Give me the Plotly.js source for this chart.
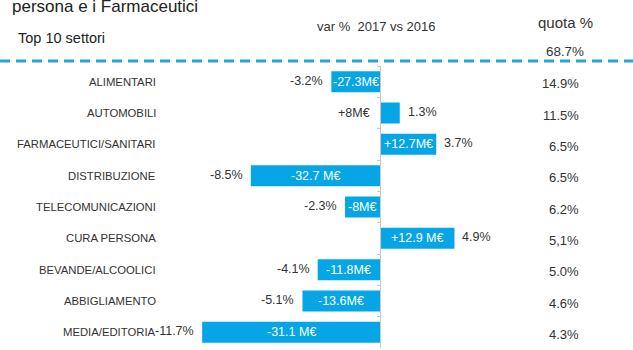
<!DOCTYPE html>
<html>
<head>
<meta charset="utf-8">
<script src="https://cdn.plot.ly/plotly-3.0.1.min.js"></script>
<style>html,body{margin:0;padding:0;background:#fff;}#chart{width:633px;height:350px;}</style>
</head>
<body>
<div id="chart"></div>
<script>
// ---- data ----
const categories = ['ALIMENTARI','AUTOMOBILI','FARMACEUTICI/SANITARI','DISTRIBUZIONE','TELECOMUNICAZIONI','CURA PERSONA','BEVANDE/ALCOOLICI','ABBIGLIAMENTO','MEDIA/EDITORIA'];
const varPct = [-3.2, 1.3, 3.7, -8.5, -2.3, 4.9, -4.1, -5.1, -11.7];
const deltaLabels = ['-27.3M€','+8M€','+12.7M€','-32.7 M€','-8M€','+12.9 M€','-11.8M€','-13.6M€','-31.1 M€'];
const quota = ['14.9%','11.5%','6.5%','6.5%','6.2%','5,1%','5.0%','4.6%','4.3%'];
const totalQuota = '68.7%';
const titleText = 'persona e i Farmaceutici';
const subtitleText = 'Top 10 settori';
const varHeader = 'var %  2017 vs 2016';
const quotaHeader = 'quota %';

// ---- layout geometry ----
const W = 633, H = 350;
const L = 160, R = 113, T = 66, B = 2;
const plotW = W - L - R, plotH = H - T - B;
const xRange = [-14.474, 9.211];
const px2x = px => (px - L) / plotW;
const py2y = py => (H - B - py) / plotH;
const FONT = 'Liberation Sans, Arial, sans-serif';
const TXT = '#333333';
const BAR = '#06a6e6';

const annotations = [];
// category labels
categories.forEach((c, i) => {
  annotations.push({xref:'paper', yref:'y', x:0, y:c, xanchor:'right', xshift:-2,
    text:c, showarrow:false, font:{family:FONT, size:11.3, color:TXT}});
});
// delta labels (inside bar, or left of axis when the bar is short)
categories.forEach((c, i) => {
  const v = varPct[i];
  const inside = Math.abs(v) >= 2;
  annotations.push(inside ? {
    xref:'x', yref:'y', x:v/2, y:c, xanchor:'center', text:deltaLabels[i], showarrow:false,
    font:{family:FONT, size:12.5, color:'#ffffff'}
  } : {
    xref:'x', yref:'y', x:0, y:c, xanchor:'right', xshift:-8, text:deltaLabels[i], showarrow:false,
    font:{family:FONT, size:12.5, color:TXT}
  });
});
// percent labels at bar end
categories.forEach((c, i) => {
  const v = varPct[i];
  annotations.push({xref:'x', yref:'y', x:v, y:c, xanchor: v < 0 ? 'right' : 'left',
    xshift: v < 0 ? -6 : 6, yshift: 1, text: v.toFixed(1) + '%', showarrow:false,
    font:{family:FONT, size:12.5, color:TXT}});
});
// quota column
categories.forEach((c, i) => {
  annotations.push({xref:'paper', yref:'y', x:px2x(581), y:c, xanchor:'right', yshift:-2,
    text:quota[i], showarrow:false, font:{family:FONT, size:13, color:TXT}});
});
// headers
annotations.push({xref:'paper', yref:'paper', x:px2x(16), y:py2y(38), xanchor:'left', yanchor:'middle',
  text:subtitleText, showarrow:false, font:{family:FONT, size:14.5, color:'#222'}});
annotations.push({xref:'paper', yref:'paper', x:px2x(315), y:py2y(26), xanchor:'left', yanchor:'middle',
  text:varHeader, showarrow:false, font:{family:FONT, size:13, color:TXT}});
annotations.push({xref:'paper', yref:'paper', x:px2x(536), y:py2y(23), xanchor:'left', yanchor:'middle',
  text:quotaHeader, showarrow:false, font:{family:FONT, size:15, color:TXT}});
annotations.push({xref:'paper', yref:'paper', x:px2x(586), y:py2y(51), xanchor:'right', yanchor:'middle',
  text:totalQuota, showarrow:false, font:{family:FONT, size:13.4, color:TXT}});

const trace = {
  type:'bar', orientation:'h', x:varPct, y:categories, width:0.67,
  marker:{color:BAR, line:{width:0}}, hoverinfo:'none', textposition:'none'
};

const layout = {
  width:W, height:H, margin:{l:L, r:R, t:T, b:B, pad:0},
  paper_bgcolor:'#ffffff', plot_bgcolor:'#ffffff', showlegend:false,
  title:{text:titleText, x:px2x(12) * plotW / W + L / W, xref:'container', xanchor:'left',
    y:1 - 6 / H, yref:'container', yanchor:'middle',
    font:{family:FONT, size:17, color:'#222'}},
  xaxis:{range:xRange, showgrid:false, zeroline:false, showticklabels:false, ticks:'', showline:false, fixedrange:true},
  yaxis:{type:'category', categoryarray:categories, range:[categories.length - 0.5, -0.5],
    anchor:'free', position:(0 - xRange[0]) / (xRange[1] - xRange[0]),
    showgrid:false, zeroline:false, showticklabels:false, showline:true, linecolor:'#c8c8c8', linewidth:1,
    ticks:'outside', tickson:'boundaries', ticklen:3, tickcolor:'#c8c8c8', fixedrange:true},
  shapes:[{type:'line', xref:'paper', yref:'paper', x0:px2x(0), x1:px2x(W), y0:py2y(61), y1:py2y(61),
    line:{color:'#2aa3d8', width:3, dash:'10px,6px'}}],
  annotations:annotations
};

Plotly.newPlot('chart', [trace], layout, {displayModeBar:false, staticPlot:true});
</script>
</body>
</html>
